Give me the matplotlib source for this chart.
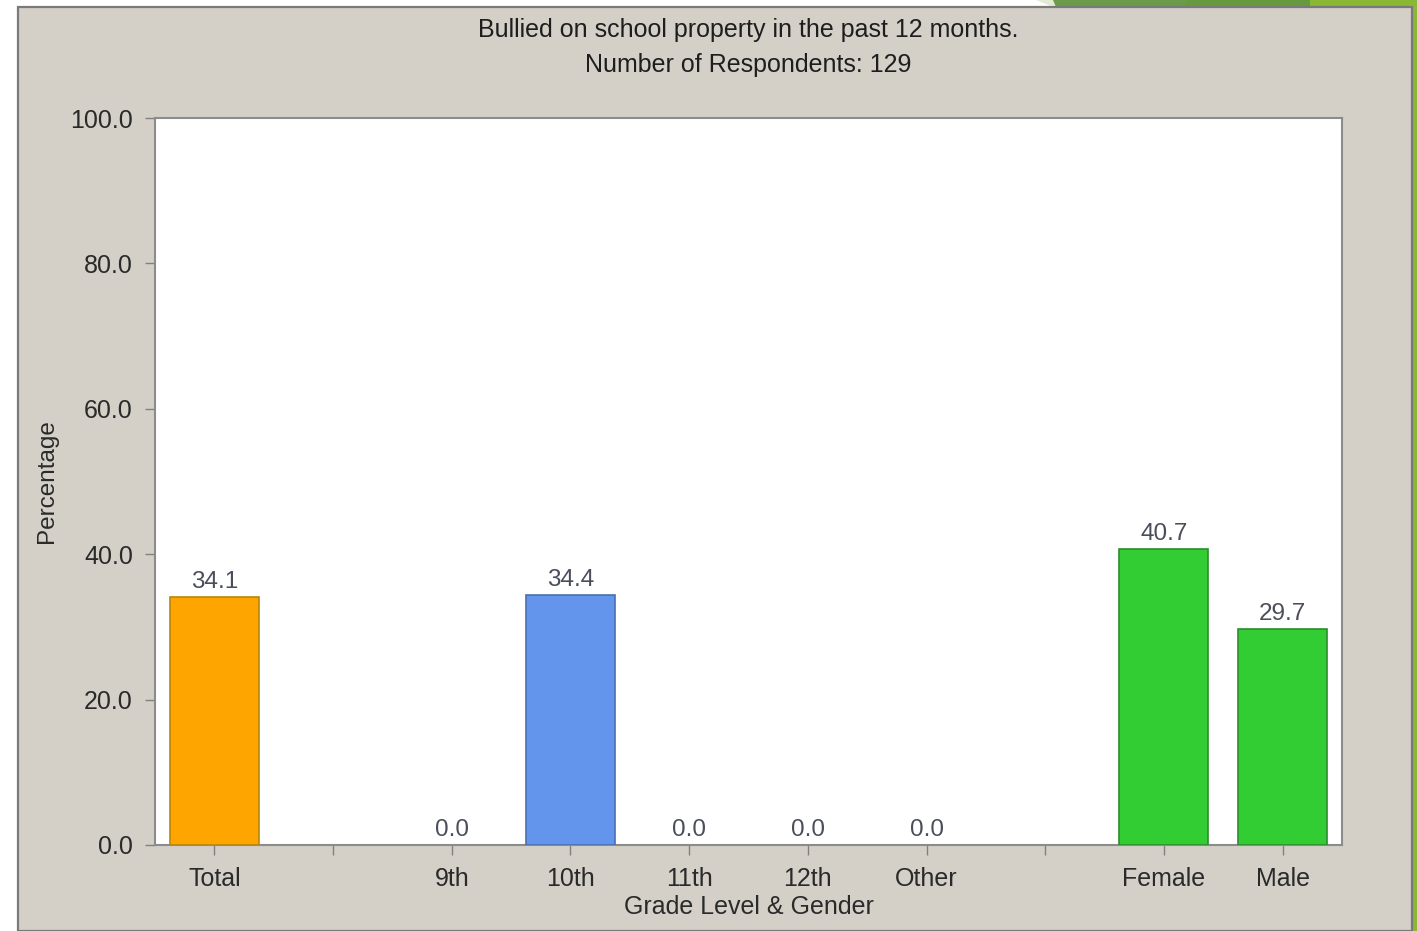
import matplotlib.pyplot as plt
from matplotlib.patches import Rectangle, Polygon

plt.rcParams['font.family'] = ['Liberation Sans', 'DejaVu Sans']

categories = ['Total', '', '9th', '10th', '11th', '12th', 'Other', '', 'Female', 'Male']
values = [34.1, None, 0.0, 34.4, 0.0, 0.0, 0.0, None, 40.7, 29.7]
bar_colors = ['#FFA500', None, '#6495ED', '#6495ED', '#6495ED', '#6495ED', '#6495ED', None,
              '#32CD32', '#32CD32']
edge_colors = ['#B8860B', None, '#4A6FB0', '#4A6FB0', '#4A6FB0', '#4A6FB0', '#4A6FB0', None,
               '#2E8B2E', '#2E8B2E']
y_ticks = [0, 20, 40, 60, 80, 100]

W, H = 1417, 931
fig = plt.figure(figsize=(W / 100, H / 100), dpi=100)
fig.patch.set_facecolor('white')

def px(x, y):
    return x / W, 1 - y / H

# slide decoration at top right
for pts, col in [
    ([(1036, 0), (1417, 0), (1417, 7), (1053, 7)], '#E2ECD2'),
    ([(1053, 0), (1186, 0), (1186, 7), (1056, 7)], '#6B9B4A'),
    ([(1186, 0), (1310, 0), (1310, 7), (1186, 7)], '#679A3E'),
    ([(1310, 0), (1417, 0), (1417, 7), (1310, 7)], '#8AB834'),
    ([(1411, 0), (1417, 0), (1417, 931), (1411, 931)], '#8AB834'),
]:
    fig.patches.append(Polygon([px(*p) for p in pts], closed=True, transform=fig.transFigure,
                               facecolor=col, edgecolor='none', zorder=0))

# grey chart panel
x0, y0 = px(18, 7)
x1, y1 = px(1412, 931)
fig.patches.append(Rectangle((x0, y1), x1 - x0, y0 - y1, transform=fig.transFigure,
                             facecolor='#D4D0C8', edgecolor='#7A7A7A', linewidth=1.6, zorder=1))

ax = fig.add_axes([155 / W, 1 - 845 / H, (1342 - 155) / W, (845 - 118) / H])
ax.set_facecolor('white')
ax.set_zorder(2)

xs = list(range(len(categories)))
for x, v, c, e in zip(xs, values, bar_colors, edge_colors):
    if v is None:
        continue
    if v > 0:
        ax.bar(x, v, width=0.75, color=c, edgecolor=e, linewidth=1.2, zorder=3)
    ax.text(x, v + 0.5, f'{v:.1f}', ha='center', va='bottom', fontsize=17.5, color='#4A4E5A')

ax.set_xlim(-0.5, len(categories) - 0.5)
ax.set_ylim(0, 100)
ax.set_xticks(xs)
ax.set_xticklabels(categories, fontsize=18, color='#2A2A2A')
ax.set_yticks(y_ticks)
ax.set_yticklabels([f'{t:.1f}' for t in y_ticks], fontsize=18, color='#2A2A2A')
ax.tick_params(axis='both', length=7, width=1, color='#808080')
ax.tick_params(axis='x', pad=9)
ax.tick_params(axis='y', pad=9)
for s in ax.spines.values():
    s.set_color('#8C8C8C')
    s.set_linewidth(1.5)

ax.set_xlabel('Grade Level & Gender', fontsize=18, color='#2A2A2A', labelpad=3)
ax.set_ylabel('Percentage', fontsize=17.5, color='#2A2A2A', labelpad=9)

fig.text(748 / W, 1 - 30 / H, 'Bullied on school property in the past 12 months.',
         ha='center', va='center', fontsize=18, color='#1E1E1E', zorder=3)
fig.text(748 / W, 1 - 65 / H, 'Number of Respondents: 129',
         ha='center', va='center', fontsize=18, color='#1E1E1E', zorder=3)

fig.savefig('out.png', dpi=100, facecolor=fig.get_facecolor())
